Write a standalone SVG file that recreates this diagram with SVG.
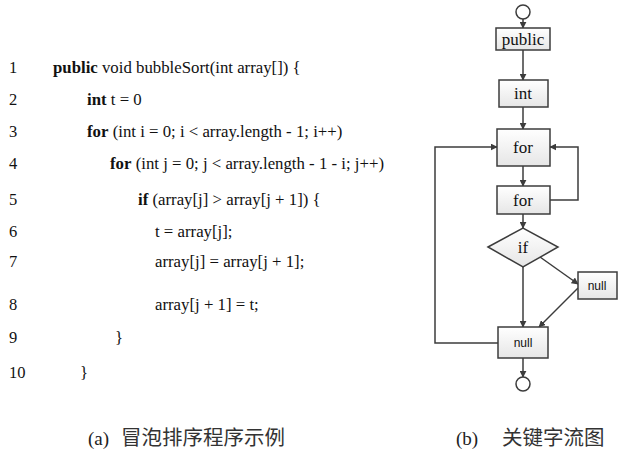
<svg xmlns="http://www.w3.org/2000/svg" width="619" height="460" viewBox="0 0 619 460">
  <style>
    .code { font-family: "Liberation Serif", "Times New Roman", serif; font-size: 16.8px; fill: #111; }
    .kw { font-weight: bold; }
    .num { font-family: "Liberation Serif", "Times New Roman", serif; font-size: 16.5px; fill: #111; }
    .box { fill: url(#boxFill); stroke: #3c3c3c; stroke-width: 1.5; }
    .lbl { font-family: "Liberation Serif", "Times New Roman", serif; font-size: 17px; fill: #111; text-anchor: middle; }
    .lbls { font-family: "Liberation Sans", Arial, sans-serif; font-size: 12px; fill: #111; text-anchor: middle; }
    .edge { fill: none; stroke: #3c3c3c; stroke-width: 1.5; marker-end: url(#arrow); }
    .term { fill: #fff; stroke: #3c3c3c; stroke-width: 1.5; }
    .cap { font-family: "Liberation Serif", "Noto Sans CJK SC", serif; font-size: 19px; fill: #222; }
    .capz { font-family: "Noto Sans CJK SC", sans-serif; font-size: 20.5px; fill: #333; }
  </style>
  <defs>
    <linearGradient id="boxFill" x1="0" y1="0" x2="0" y2="1">
      <stop offset="0" stop-color="#ffffff"/>
      <stop offset="1" stop-color="#e6e6e6"/>
    </linearGradient>
    <marker id="arrow" viewBox="0 0 10 10" refX="9" refY="5" markerWidth="7" markerHeight="7" markerUnits="userSpaceOnUse" orient="auto">
      <path d="M0,0 L10,5 L0,10 z" fill="#3c3c3c"/>
    </marker>
  </defs>

  <!-- bubble sort source listing -->
  <g id="listing">
    <text class="num" x="9" y="73">1</text>
    <text class="code" x="53" y="73"><tspan class="kw">public</tspan> void bubbleSort(int array[]) {</text>
    <text class="num" x="9" y="105">2</text>
    <text class="code" x="87" y="105"><tspan class="kw">int</tspan> t = 0</text>
    <text class="num" x="9" y="137">3</text>
    <text class="code" x="87" y="137"><tspan class="kw">for</tspan> (int i = 0; i &lt; array.length - 1; i++)</text>
    <text class="num" x="9" y="169">4</text>
    <text class="code" x="110" y="169"><tspan class="kw">for</tspan> (int j = 0; j &lt; array.length - 1 - i; j++)</text>
    <text class="num" x="9" y="205">5</text>
    <text class="code" x="138" y="205"><tspan class="kw">if</tspan> (array[j] &gt; array[j + 1]) {</text>
    <text class="num" x="9" y="237">6</text>
    <text class="code" x="155" y="237">t = array[j];</text>
    <text class="num" x="9" y="267">7</text>
    <text class="code" x="155" y="267">array[j] = array[j + 1];</text>
    <text class="num" x="9" y="310">8</text>
    <text class="code" x="155" y="310">array[j + 1] = t;</text>
    <text class="num" x="9" y="343">9</text>
    <text class="code" x="115" y="343">}</text>
    <text class="num" x="9" y="378">10</text>
    <text class="code" x="80" y="378">}</text>
  </g>

  <!-- keyword flow graph: connectors -->
  <g id="connectors">
    <line class="edge" x1="523" y1="19" x2="523" y2="28"/>
    <line class="edge" x1="523" y1="50" x2="523" y2="80"/>
    <line class="edge" x1="523" y1="107" x2="523" y2="129"/>
    <line class="edge" x1="523" y1="166" x2="523" y2="186"/>
    <line class="edge" x1="523" y1="214" x2="523" y2="228"/>
    <line class="edge" x1="540" y1="257" x2="578" y2="284"/>
    <line class="edge" x1="578" y1="288" x2="539" y2="327"/>
    <line class="edge" x1="523" y1="267" x2="523" y2="327"/>
    <polyline class="edge" points="498,343 435,343 435,147 497,147"/>
    <polyline class="edge" points="550,200 578,200 578,147 550,147"/>
    <line class="edge" x1="523" y1="358" x2="523" y2="377"/>
  </g>

  <g id="start"><circle class="term" cx="523" cy="12" r="7"/></g>
  <g id="n-public">
    <rect class="box" x="496" y="28" width="54" height="22"/>
    <text class="lbl" x="523" y="45">public</text>
  </g>
  <g id="n-int">
    <rect class="box" x="499" y="80" width="49" height="27"/>
    <text class="lbl" x="523" y="99">int</text>
  </g>
  <g id="n-for-outer">
    <rect class="box" x="497" y="129" width="53" height="37"/>
    <text class="lbl" x="523" y="153">for</text>
  </g>
  <g id="n-for-inner">
    <rect class="box" x="497" y="186" width="53" height="28"/>
    <text class="lbl" x="523" y="206">for</text>
  </g>
  <g id="n-if">
    <polygon class="box" points="488,247 523,228 558,247 523,267"/>
    <text class="lbl" x="523" y="253">if</text>
  </g>
  <g id="n-null-swap">
    <rect class="box" x="578" y="272" width="39" height="27"/>
    <text class="lbls" x="597" y="290">null</text>
  </g>
  <g id="n-null-join">
    <rect class="box" x="498" y="327" width="50" height="31"/>
    <text class="lbls" x="523" y="347">null</text>
  </g>
  <g id="end"><circle class="term" cx="523" cy="384" r="7"/></g>

  <!-- captions -->
  <g id="captions">
    <text class="cap" x="88" y="445">(a)</text>
    <text class="capz" x="121" y="445">冒泡排序程序示例</text>
    <text class="cap" x="456" y="445">(b)</text>
    <text class="capz" x="502" y="445">关键字流图</text>
  </g>
</svg>
